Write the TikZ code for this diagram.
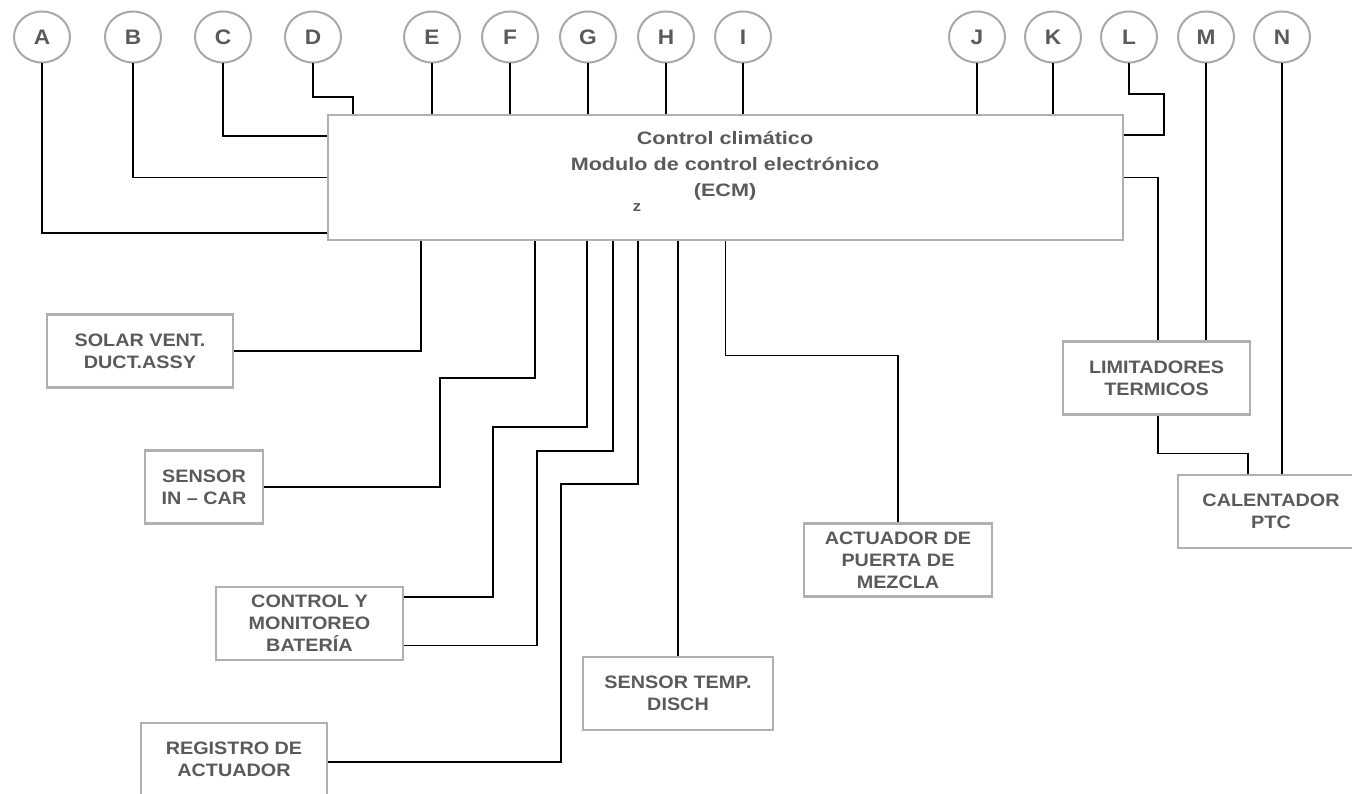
\documentclass[tikz,border=0pt]{standalone}
\usepackage{fontspec}
\setmainfont{Liberation Sans}
\newfontfamily\lblfont[FakeStretch=1.1]{Liberation Sans}
\newfontfamily\ttlfont[FakeStretch=1.2]{Liberation Sans}
\newfontfamily\circfont[FakeStretch=1.08]{Liberation Sans}
\usetikzlibrary{shapes.geometric}
\definecolor{txtgray}{HTML}{5A5A5A}
\definecolor{boxgray}{HTML}{B0B0B0}
\definecolor{circgray}{HTML}{A8A8A8}
\tikzset{
  letterc/.style={ellipse, draw=circgray, line width=2pt, minimum width=56pt, minimum height=51pt, inner sep=0pt, text=txtgray, font=\circfont\bfseries\fontsize{21}{21}\selectfont},
  partbox/.style={draw=boxgray, line width=2.5pt, minimum height=73pt, inner sep=0pt, align=center, text=txtgray, font=\lblfont\bfseries\fontsize{18}{22}\selectfont},
  wire/.style={line width=1.4pt, black}
}
\begin{document}
\begin{tikzpicture}[x=1pt,y=-1pt]
\useasboundingbox (0,0) rectangle (1352,794);
% circles
\foreach \n/\x in {A/42,B/133,C/223,D/313,E/432,F/510,G/588,H/666,I/743,J/977,K/1053,L/1129,M/1206,N/1282}
  \node[letterc] (\n) at (\x,37) {\n};
% main box
\node[draw=boxgray, line width=2.5pt, minimum width=795pt, minimum height=125pt, inner sep=0pt] (ecm) at (725.5,177.5) {};
\node[align=center, text=txtgray, font=\ttlfont\bfseries\fontsize{18}{26}\selectfont] (ttl) at (725,166) {Control climático\\Modulo de control electrónico\\(ECM)};
\node[text=txtgray, font=\lblfont\bfseries\fontsize{15}{15}\selectfont] (zz) at (637,208) {z};
% part boxes
\node[partbox, minimum width=186pt] (solar) at (140,351) {SOLAR VENT.\\DUCT.ASSY};
\node[partbox, minimum width=118pt] (sin) at (204,487) {SENSOR\\IN – CAR};
\node[partbox, minimum width=187pt] (cmb) at (309.5,623.5) {CONTROL Y\\MONITOREO\\BATERÍA};
\node[partbox, minimum width=186pt] (reg) at (234,759.5) {REGISTRO DE\\ACTUADOR};
\node[partbox, minimum width=190pt] (temp) at (678,693.5) {SENSOR TEMP.\\DISCH};
\node[partbox, minimum width=188pt] (act) at (898,560) {ACTUADOR DE\\PUERTA DE\\MEZCLA};
\node[partbox, minimum width=187pt] (lim) at (1156.5,378) {LIMITADORES\\TERMICOS};
\node[partbox, minimum width=186pt] (cal) at (1271,511.5) {CALENTADOR\\PTC};
% top wires
\draw[wire] (A.south) |- ([yshift=-55.5pt]ecm.west);
\draw[wire] (B.south) |- (ecm.west);
\draw[wire] (C.south) |- ([yshift=41.5pt]ecm.west);
\draw[wire] (D.south) -- ++(0,33.5) -| ([xshift=-372.5pt]ecm.north);
\foreach \n in {E,F,G,H,I,J,K}
  \draw[wire] (\n.south) -- (\n.south |- ecm.north);
\draw[wire] (L.south) -- ++(0,30.5) -| (1164,135) -- ([yshift=42.5pt]ecm.east);
\draw[wire] (ecm.east) -| ([xshift=1.5pt]lim.north);
\draw[wire] (M.south) -- (M.south |- lim.north);
\draw[wire] ([xshift=1.5pt]lim.south) -- ++(0,38) -| ([xshift=-23pt]cal.north);
\draw[wire] (N.south) -- (N.south |- cal.north);
% bottom wires
\draw[wire] ([xshift=-304.5pt]ecm.south) |- (solar.east);
\draw[wire] ([xshift=-190.5pt]ecm.south) |- (440,378) |- (sin.east);
\draw[wire] ([xshift=-138.5pt]ecm.south) |- (493,427) |- ([yshift=26.5pt]cmb.east);
\draw[wire] ([xshift=-112.5pt]ecm.south) |- (537,451) |- ([yshift=-22pt]cmb.east);
\draw[wire] ([xshift=-87.5pt]ecm.south) |- (561,484) |- ([yshift=-2.5pt]reg.east);
\draw[wire] (temp.north |- ecm.south) -- (temp.north);
\draw[wire] (ecm.south) -- ++(0,114) -| (act.north);
\end{tikzpicture}
\end{document}
